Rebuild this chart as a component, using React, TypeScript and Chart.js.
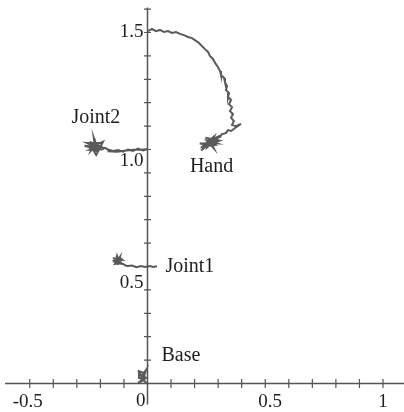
import { useEffect, useRef } from "react";
import { Chart, registerables } from "chart.js";

Chart.register(...registerables);

// Hand trajectory: from the top of the reach down the arc to where it settles
const handArc: [number, number][] = [
  [0.002, 1.506], [0.019, 1.515], [0.036, 1.506], [0.053, 1.511], [0.07, 1.502],
  [0.087, 1.506], [0.104, 1.498], [0.121, 1.502], [0.138, 1.494], [0.155, 1.489],
  [0.172, 1.481], [0.189, 1.476], [0.206, 1.464], [0.219, 1.455], [0.231, 1.442],
  [0.244, 1.429], [0.257, 1.417], [0.265, 1.4], [0.278, 1.387], [0.287, 1.37],
  [0.299, 1.353], [0.308, 1.335], [0.312, 1.318], [0.325, 1.306], [0.329, 1.288],
  [0.338, 1.271], [0.333, 1.254], [0.346, 1.241], [0.342, 1.224], [0.355, 1.212],
  [0.346, 1.194], [0.359, 1.181], [0.35, 1.164], [0.363, 1.152], [0.355, 1.135],
  [0.367, 1.122], [0.359, 1.105], [0.376, 1.1], [0.397, 1.109], [0.372, 1.092],
  [0.355, 1.079], [0.342, 1.083], [0.333, 1.07], [0.316, 1.066], [0.308, 1.053],
  [0.3, 1.053], [0.291, 1.045],
];
const handCluster: [number, number][] = [
  [0.294, 1.045], [0.252, 1.019], [0.288, 1.032], [0.241, 1.026], [0.276, 1.014],
  [0.259, 1.045], [0.299, 1.05], [0.246, 1.008], [0.27, 1.026], [0.283, 1.056],
  [0.235, 1.014], [0.288, 1.019], [0.264, 1.038], [0.312, 1.061], [0.259, 1.014],
  [0.276, 1.045], [0.228, 0.996], [0.27, 1.032], [0.283, 1.003], [0.252, 1.038],
  [0.294, 1.026], [0.222, 1.026], [0.264, 1.019], [0.306, 1.038], [0.246, 1.05],
  [0.283, 1.038],
];

// Joint 2: jitter around its rest point, then the trace over to the y axis
const joint2Cluster: [number, number][] = [
  [-0.201, 1.006], [-0.24, 1.023], [-0.206, 1.016], [-0.245, 0.999], [-0.213, 0.999],
  [-0.235, 1.028], [-0.196, 1.011], [-0.25, 1.011], [-0.218, 0.994], [-0.223, 1.033],
  [-0.24, 0.994], [-0.206, 1.028], [-0.257, 1.028], [-0.213, 1.006], [-0.228, 1.05],
  [-0.223, 1.011], [-0.267, 1.016], [-0.235, 1.006], [-0.218, 0.977], [-0.206, 0.999],
  [-0.189, 1.033], [-0.228, 1.016], [-0.196, 0.999], [-0.181, 1.007],
];
const joint2Path: [number, number][] = [
  [-0.168, 1.0], [-0.147, 0.994], [-0.125, 0.998], [-0.104, 0.991],
  [-0.083, 1.0], [-0.062, 0.994], [-0.04, 1.004], [-0.019, 0.996], [0.002, 1.002],
  [-0.02, 1.0], [-0.06, 0.999], [-0.1, 0.995], [-0.13, 0.99], [-0.17, 0.992],
];

// Joint 1
const joint1Cluster: [number, number][] = [
  [-0.112, 0.52], [-0.134, 0.533], [-0.117, 0.533], [-0.138, 0.52], [-0.121, 0.515],
  [-0.129, 0.537], [-0.108, 0.528], [-0.142, 0.524], [-0.125, 0.511], [-0.117, 0.541],
  [-0.138, 0.511], [-0.112, 0.515], [-0.146, 0.537], [-0.121, 0.524], [-0.129, 0.545],
  [-0.134, 0.515], [-0.104, 0.511], [-0.091, 0.503],
];
const joint1Path: [number, number][] = [
  [-0.083, 0.502], [-0.066, 0.504], [-0.047, 0.497], [-0.028, 0.502], [-0.01, 0.498],
  [0.01, 0.502], [0.025, 0.498], [0.04, 0.501],
];

// Base
const baseCluster: [number, number][] = [
  [-0.002, 0.002], [-0.032, 0.024], [-0.036, 0.053], [-0.015, 0.045], [-0.028, 0.028],
  [-0.006, 0.058], [-0.019, 0.019], [-0.04, 0.002], [-0.023, 0.011], [-0.006, 0.024],
  [-0.032, 0.041], [-0.011, 0.006], [-0.025, 0.036], [-0.013, 0.03],
];

// Axes
const xTickValues = [-0.5, -0.4, -0.3, -0.2, -0.1, 0.1, 0.2, 0.3, 0.4, 0.5, 0.6, 0.7, 0.8, 0.9, 1.0];
const yTickValues = [0.1, 0.2, 0.3, 0.4, 0.5, 0.6, 0.7, 0.8, 0.9, 1.0, 1.1, 1.2, 1.3, 1.4, 1.5, 1.6];
const xLabelValues = [-0.5, 0, 0.5, 1];
const xLabelTexts = ["-0.5", "0", "0.5", "1"];
const yLabelValues = [0.5, 1.0, 1.5];
const yLabelTexts = ["0.5", "1.0", "1.5"];

const partNames = ["Joint2", "Hand", "Joint1", "Base"];
const partLabelX = [-0.219, 0.272, 0.18, 0.142];
const partLabelY = [1.135, 0.925, 0.498, 0.118];

const toPoints = (pts: [number, number][]) => pts.map(([x, y]) => ({ x, y }));

const TRACE = "#5a5a5a";
const AXIS = "#555555";
const TEXT = "#1e1e1e";
const TICK_FONT = '19px "Liberation Serif", "DejaVu Serif", serif';
const NAME_FONT = '20px "Liberation Serif", "DejaVu Serif", serif';

const axesPlugin = {
  id: "crossAxes",
  beforeDatasetsDraw(chart: any) {
    const { ctx, scales } = chart;
    const xs = scales.x;
    const ys = scales.y;
    const x0 = xs.getPixelForValue(0);
    const y0 = ys.getPixelForValue(0);
    ctx.save();
    ctx.strokeStyle = AXIS;
    ctx.lineWidth = 1.5;
    ctx.beginPath();
    ctx.moveTo(xs.getPixelForValue(-0.605), y0);
    ctx.lineTo(chart.chartArea.right, y0);
    ctx.moveTo(x0, ys.getPixelForValue(1.607));
    ctx.lineTo(x0, ys.getPixelForValue(-0.09));
    ctx.stroke();
    ctx.lineWidth = 1.2;
    ctx.beginPath();
    for (const v of xTickValues) {
      const px = xs.getPixelForValue(v);
      ctx.moveTo(px, y0 - 4.5);
      ctx.lineTo(px, y0 + 4.5);
    }
    for (const v of yTickValues) {
      const py = ys.getPixelForValue(v);
      ctx.moveTo(x0 - 3.5, py);
      ctx.lineTo(x0 + 3.5, py);
    }
    ctx.stroke();
    ctx.restore();
  },
  afterDatasetsDraw(chart: any) {
    const { ctx, scales } = chart;
    const xs = scales.x;
    const ys = scales.y;
    const x0 = xs.getPixelForValue(0);
    const y0 = ys.getPixelForValue(0);
    ctx.save();
    ctx.fillStyle = TEXT;
    ctx.font = TICK_FONT;
    ctx.textBaseline = "middle";
    xLabelValues.forEach((v, i) => {
      const px = xs.getPixelForValue(v);
      if (v === 0) {
        ctx.textAlign = "right";
        ctx.fillText(xLabelTexts[i], x0 - 2, y0 + 18);
      } else {
        ctx.textAlign = "center";
        ctx.fillText(xLabelTexts[i], px + (v === 0.5 ? 5 : v < 0 ? -2 : 0), y0 + 19);
      }
    });
    // value labels sit a little below their ticks, except the top one
    const yNudge = [17, 12, 0];
    ctx.textAlign = "right";
    yLabelValues.forEach((v, i) => {
      ctx.fillText(yLabelTexts[i], x0 - 4, ys.getPixelForValue(v) + yNudge[i]);
    });
    ctx.font = NAME_FONT;
    ctx.textAlign = "center";
    partNames.forEach((name, i) => {
      ctx.fillText(name, xs.getPixelForValue(partLabelX[i]), ys.getPixelForValue(partLabelY[i]));
    });
    ctx.restore();
  },
};

export default function App() {
  const canvasRef = useRef<HTMLCanvasElement | null>(null);

  useEffect(() => {
    const canvas = canvasRef.current;
    if (!canvas) return;
    const line = (data: [number, number][]) => ({
      data: toPoints(data),
      showLine: true,
      borderColor: TRACE,
      backgroundColor: TRACE,
      borderWidth: 2,
      pointRadius: 0,
      tension: 0,
    });
    const chart = new Chart(canvas, {
      type: "scatter",
      data: {
        datasets: [
          line([...handArc, ...handCluster]),
          line([...joint2Cluster, ...joint2Path]),
          line([...joint1Cluster, ...joint1Path]),
          line(baseCluster),
        ],
      },
      options: {
        responsive: false,
        maintainAspectRatio: false,
        animation: false,
        devicePixelRatio: 1,
        layout: { padding: 0 },
        plugins: { legend: { display: false }, tooltip: { enabled: false } },
        scales: {
          x: { type: "linear", min: -0.6263, max: 1.0892, display: false },
          y: { type: "linear", min: -0.1218, max: 1.6389, display: false },
        },
      },
      plugins: [axesPlugin],
    });
    return () => chart.destroy();
  }, []);

  return (
    <div style={{ position: "fixed", left: 0, top: 0, width: 404, height: 412, background: "#fff" }}>
      <canvas ref={canvasRef} width={404} height={412} />
    </div>
  );
}
